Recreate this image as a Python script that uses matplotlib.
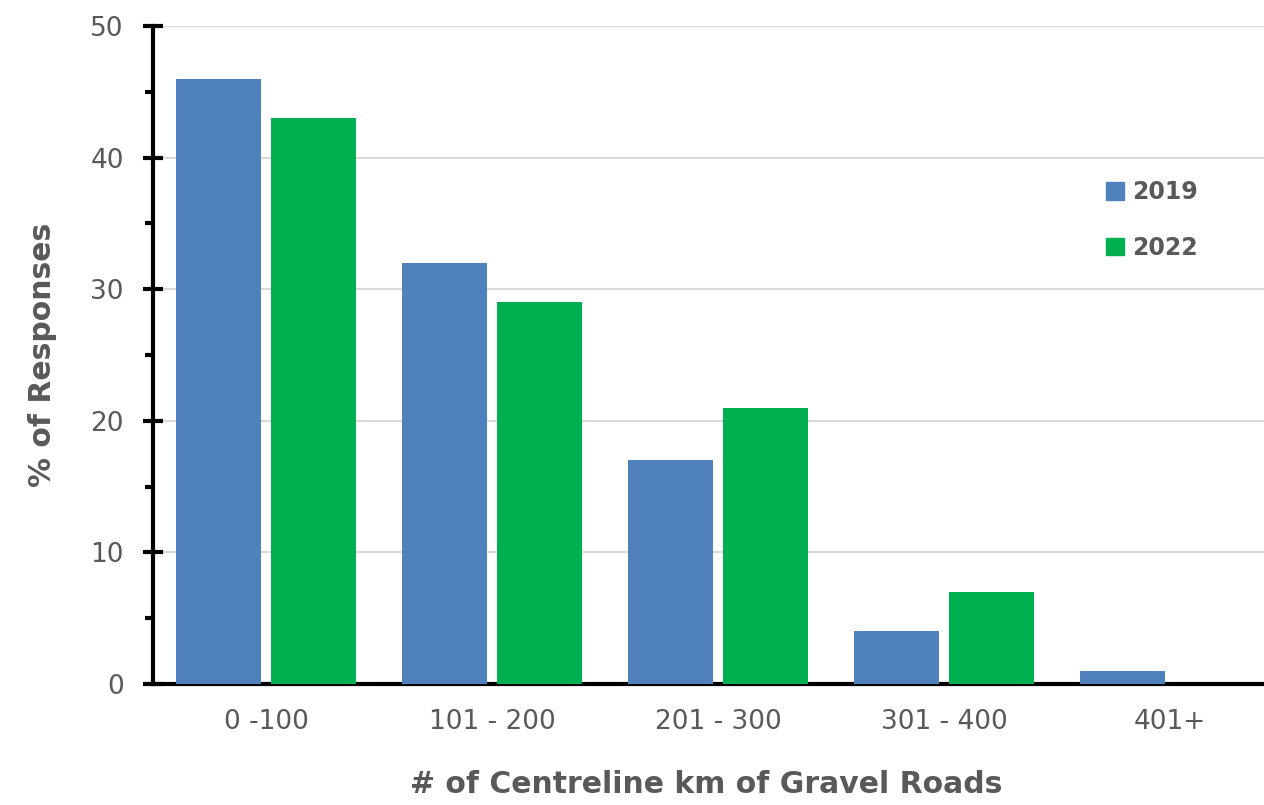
import matplotlib
matplotlib.use("Agg")
import matplotlib.pyplot as plt
import numpy as np
from matplotlib.patches import Patch
from matplotlib.ticker import MultipleLocator

plt.rcParams['font.family'] = ['DejaVu Sans']

categories = ['0 -100', '101 - 200', '201 - 300', '301 - 400', '401+']
pct_2019 = [46, 32, 17, 4, 1]
pct_2022 = [43, 29, 21, 7, 0]

blue = '#4f81bd'
green = '#00b050'
grey = '#595959'

fig = plt.figure(figsize=(12.64, 8.05), dpi=100)
ax = fig.add_axes([153 / 1264, 1 - 684 / 805, (1264 - 153) / 1264, (684 - 26) / 805])

x = np.arange(len(categories))
w = 0.376
ax.bar(x - 0.21, pct_2019, w, color=blue, zorder=3)
ax.bar(x + 0.21, pct_2022, w, color=green, zorder=3)

ax.set_xlim(-0.5, -0.5 + (1264 - 153) / 226)
ax.set_ylim(0, 50)
ax.yaxis.set_major_locator(MultipleLocator(10))
ax.yaxis.set_minor_locator(MultipleLocator(5))
ax.grid(axis='y', color='#d9d9d9', linewidth=1.5, zorder=0)

for s in ['top', 'right']:
    ax.spines[s].set_visible(False)
ax.spines['left'].set_linewidth(3)
ax.spines['bottom'].set_linewidth(3)

ax.set_xticks(x)
ax.set_xticklabels(categories)
ax.tick_params(axis='x', length=0, pad=18, labelsize=19, labelcolor=grey)
ax.tick_params(axis='y', which='major', direction='inout', length=14, width=3,
               labelsize=19, labelcolor=grey, pad=14)
ax.tick_params(axis='y', which='minor', direction='out', length=6, width=3)

ax.set_ylabel('% of Responses', fontsize=21.5, fontweight='bold', color=grey)
ax.yaxis.set_label_coords(-(153 - 57) / (1264 - 153), 0.5)
ax.set_xlabel('# of Centreline km of Gravel Roads', fontsize=21.5, fontweight='bold',
              color=grey)
ax.xaxis.set_label_coords((706 - 153) / (1264 - 153), -(770 - 684) / (684 - 26))

handles = [Patch(color=blue), Patch(color=green)]
leg = ax.legend(handles, ['2019', '2022'], loc='upper left',
                bbox_to_anchor=(1085 / 1264, 1 - 159 / 805), bbox_transform=fig.transFigure,
                frameon=False, handlelength=0.75, handleheight=0.75, handletextpad=0.35,
                labelspacing=1.34, prop={'size': 17, 'weight': 'bold'})
for t in leg.get_texts():
    t.set_color(grey)

fig.savefig('out.png', dpi=100)
